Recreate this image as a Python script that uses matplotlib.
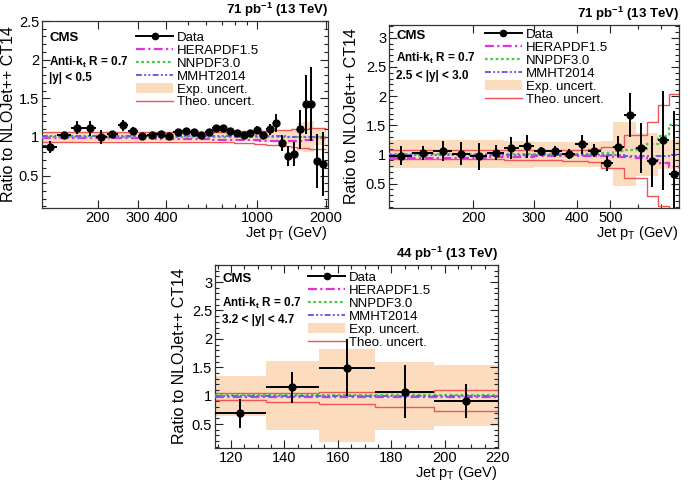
import matplotlib
matplotlib.use("Agg")
import matplotlib.pyplot as plt
from matplotlib.lines import Line2D
from matplotlib.patches import Patch
from matplotlib.ticker import FixedLocator, NullFormatter, MultipleLocator, FixedFormatter, FormatStrFormatter
import numpy as np

plt.rcParams['font.family'] = ['Liberation Sans', 'DejaVu Sans']
plt.rcParams['mathtext.fontset'] = 'custom'
plt.rcParams['mathtext.rm'] = 'Liberation Sans'
plt.rcParams['mathtext.it'] = 'Liberation Sans:italic'
plt.rcParams['mathtext.bf'] = 'Liberation Sans:bold'

# ---------------- data: panel 1, |y| < 0.5 ----------------
edges1 = [114, 133, 153, 174, 196, 220, 245, 272, 300, 330, 362, 395, 430, 468, 507, 548, 592, 638,
          686, 737, 790, 846, 905, 967, 1032, 1101, 1172, 1248, 1327, 1410, 1497, 1588, 1684, 1784,
          1890, 2000]
data1 = [0.87, 1.03, 1.12, 1.11, 1.00, 1.04, 1.15, 1.08, 1.01, 1.03, 1.04, 1.01, 1.06, 1.08, 1.06,
         1.02, 1.07, 1.11, 1.11, 1.08, 1.05, 1.03, 1.05, 1.09, 1.03, 1.10, 1.18, 0.92, 0.75, 0.78,
         1.10, 1.42, 1.43, 0.69, 0.65]
err1 = [0.08, 0.03, 0.08, 0.10, 0.09, 0.04, 0.07, 0.05, 0.02, 0.02, 0.02, 0.02, 0.02, 0.02, 0.02,
        0.02, 0.02, 0.02, 0.02, 0.02, 0.02, 0.03, 0.03, 0.05, 0.04, 0.07, 0.12, 0.10, 0.13, 0.15,
        0.25, 0.38, 0.48, 0.35, 0.42]
exp1 = [0.06, 0.06, 0.06, 0.05, 0.05, 0.05, 0.05, 0.05, 0.05, 0.05, 0.05, 0.05, 0.05, 0.05, 0.05,
        0.05, 0.05, 0.05, 0.05, 0.05, 0.05, 0.05, 0.05, 0.06, 0.06, 0.06, 0.07, 0.08, 0.09, 0.10,
        0.18, 0.19, 0.20, 0.10, 0.10]
theo_up1 = [1.06, 1.06, 1.06, 1.06, 1.06, 1.06, 1.06, 1.06, 1.06, 1.06, 1.06, 1.06, 1.06, 1.06, 1.07,
            1.07, 1.07, 1.07, 1.07, 1.07, 1.07, 1.08, 1.08, 1.08, 1.08, 1.09, 1.09, 1.09, 1.09, 1.10,
            1.10, 1.10, 1.11, 1.11, 1.11]
theo_lo1 = [0.94, 0.94, 0.94, 0.94, 0.94, 0.94, 0.94, 0.94, 0.94, 0.94, 0.94, 0.94, 0.94, 0.94, 0.94,
            0.94, 0.93, 0.93, 0.93, 0.93, 0.92, 0.92, 0.92, 0.91, 0.91, 0.90, 0.90, 0.89, 0.88, 0.87,
            0.86, 0.86, 0.85, 0.84, 0.84]
hera1 = [0.99, 0.99, 0.99, 0.98, 0.98, 0.98, 0.98, 0.98, 0.98, 0.98, 0.97, 0.97, 0.97, 0.97, 0.97,
         0.97, 0.97, 0.96, 0.96, 0.96, 0.96, 0.96, 0.96, 0.96, 0.95, 0.95, 0.95, 0.95, 0.95, 0.95,
         0.95, 0.96, 0.96, 0.97, 0.98]
nnpdf1 = [1.00, 1.00, 1.00, 1.00, 1.00, 1.00, 1.00, 1.00, 1.00, 1.00, 1.00, 1.00, 1.00, 1.00, 1.00,
          1.00, 1.00, 1.00, 1.00, 1.00, 1.00, 1.00, 1.00, 1.00, 1.00, 1.00, 1.00, 1.00, 1.00, 1.00,
          1.00, 1.00, 1.00, 1.00, 1.00]
mmht1 = [1.01, 1.01, 1.01, 1.01, 1.01, 1.01, 1.01, 1.01, 1.01, 1.01, 1.01, 1.01, 1.01, 1.01, 1.01,
         1.01, 1.01, 1.01, 1.01, 1.01, 1.01, 1.01, 1.01, 1.01, 1.01, 1.01, 1.01, 1.01, 1.00, 1.00,
         1.00, 1.00, 1.00, 1.00, 1.00]

# ---------------- data: panel 2, 2.5 < |y| < 3.0 ----------------
edges2 = [114, 133, 153, 174, 196, 220, 245, 272, 300, 330, 362, 395, 430, 468, 507, 548, 592, 638,
          686, 737, 790]
data2 = [0.98, 1.02, 1.06, 1.01, 0.97, 1.03, 1.11, 1.14, 1.06, 1.05, 1.01, 1.17, 1.06, 0.85, 1.13,
         1.68, 1.11, 0.88, 1.24, 0.66]
err2 = [0.16, 0.12, 0.17, 0.20, 0.23, 0.13, 0.19, 0.20, 0.07, 0.09, 0.09, 0.16, 0.11, 0.13, 0.18,
        0.38, 0.43, 0.44, 0.85, 1.08]
exp2 = [0.24, 0.24, 0.24, 0.24, 0.24, 0.24, 0.23, 0.23, 0.22, 0.22, 0.22, 0.21, 0.21, 0.23, 0.55,
        0.55, 0.37, 0.37, 0.25, 0.25]
theo_up2 = [1.08, 1.08, 1.08, 1.08, 1.08, 1.08, 1.08, 1.08, 1.08, 1.08, 1.08, 1.08, 1.09, 1.13, 1.13,
            1.34, 1.34, 1.56, 1.84, 2.03]
theo_lo2 = [0.92, 0.92, 0.92, 0.92, 0.92, 0.92, 0.91, 0.91, 0.91, 0.90, 0.89, 0.88, 0.87, 0.76, 0.76,
            0.60, 0.60, 0.28, 0.11, 0.00]
hera2 = [0.93, 0.93, 0.93, 0.94, 0.94, 0.95, 0.95, 0.96, 0.97, 0.97, 0.98, 0.98, 0.98, 0.97, 0.96,
         0.95, 0.93, 0.90, 0.85, 0.78]
nnpdf2 = [1.00, 1.00, 1.00, 1.00, 1.00, 1.00, 1.00, 1.00, 1.00, 1.00, 1.00, 1.01, 1.02, 1.03, 1.06,
          1.08, 1.10, 1.18, 1.32, 1.50]
mmht2 = [0.99, 0.99, 0.99, 0.99, 0.99, 0.99, 0.99, 0.99, 0.99, 0.99, 0.99, 0.99, 0.99, 0.99, 0.99,
         0.98, 0.98, 0.98, 0.98, 0.99]

# ---------------- data: panel 3, 3.2 < |y| < 4.7 ----------------
edges3 = [114, 133, 153, 174, 196, 220]
data3 = [0.69, 1.15, 1.49, 1.07, 0.91]
err3 = [0.25, 0.27, 0.50, 0.47, 0.30]
exp3 = [0.35, 0.61, 0.82, 0.60, 0.54]
theo_up3 = [1.04, 1.05, 1.07, 1.07, 1.10]
theo_lo3 = [0.92, 0.89, 0.86, 0.81, 0.73]
hera3 = [0.98, 0.98, 0.98, 0.98, 0.98]
nnpdf3 = [1.01, 1.01, 1.01, 1.01, 1.01]
mmht3 = [1.00, 1.00, 1.00, 1.00, 1.00]

titles = ["71 pb$^{\\mathbf{-1}}$ (13 TeV)", "71 pb$^{\\mathbf{-1}}$ (13 TeV)",
          "44 pb$^{\\mathbf{-1}}$ (13 TeV)"]
rapidity = ["|y| < 0.5", "2.5 < |y| < 3.0", "3.2 < |y| < 4.7"]
legend_labels = ["Data", "HERAPDF1.5", "NNPDF3.0", "MMHT2014", "Exp. uncert.", "Theo. uncert."]

BAND = '#fcdcbe'
RED = '#ee5555'
MAG = '#e030e0'
GRN = '#44cc44'
BLU = '#6060ee'

W, H = 688, 482
fig = plt.figure(figsize=(W / 100, H / 100), dpi=100)


def px_axes(l, t, r, b):
    return fig.add_axes([l / W, 1 - b / H, (r - l) / W, (b - t) / H])


def draw(ax, edges, data, err, exp, tu, tl, hera, nnpdf, mmht):
    e = np.array(edges, float)
    d = np.array(data)
    ex = np.array(exp)
    ax.stairs(1 + ex, e, baseline=1 - ex, fill=True, color=BAND, lw=0, zorder=1)
    ax.stairs(tu, e, color=RED, lw=1.0, zorder=2, baseline=None)
    ax.stairs(tl, e, color=RED, lw=1.0, zorder=2, baseline=None)
    ax.stairs(hera, e, color=MAG, lw=1.6, ls=(0, (4, 1.5, 1, 1.5)), zorder=3, baseline=None)
    ax.stairs(nnpdf, e, color=GRN, lw=1.6, ls=(0, (1.2, 1.2)), zorder=3, baseline=None)
    ax.stairs(mmht, e, color=BLU, lw=1.4, ls=(0, (3, 1.2, 1, 1.2, 1, 1.2)), zorder=3, baseline=None)
    xc = np.sqrt(e[:-1] * e[1:]) if ax.get_xscale() == 'log' else 0.5 * (e[:-1] + e[1:])
    xerr = [xc - e[:-1], e[1:] - xc]
    ax.errorbar(xc, d, yerr=err, xerr=xerr, fmt='o', color='black', ms=5, lw=1.4,
                capsize=0, zorder=5)


def style(ax, ymax, title, rap, leg_top, txt_y, ylab_x, xlab_y):
    ax.tick_params(direction='in', which='both', top=True, right=True, labelsize=10.5,
                   colors='#222222', labelcolor='black', pad=2)
    ax.tick_params(which='major', length=6, width=0.8)
    ax.tick_params(which='minor', length=3, width=0.8)
    ax.yaxis.set_major_locator(MultipleLocator(0.5))
    ax.yaxis.set_minor_locator(MultipleLocator(0.1))
    ax.yaxis.set_major_formatter(FormatStrFormatter('%g'))
    for s in ax.spines.values():
        s.set_linewidth(0.9)
        s.set_color('#333333')
    ax.set_ylim(0.08, ymax)
    ax.set_ylabel("Ratio to NLOJet++ CT14", fontsize=11.5)
    ax.yaxis.set_label_coords(ylab_x, 0.5)
    ax.set_xlabel("Jet p$_\\mathrm{T}$ (GeV)", fontsize=10.5, ha='right')
    ax.xaxis.set_label_coords(1.0, xlab_y)
    ax.text(1.0, 1.012, title, transform=ax.transAxes, ha='right', va='bottom',
            fontsize=9.5, fontweight='bold')
    ax.text(0.025, txt_y[0], "CMS", transform=ax.transAxes, ha='left', va='center',
            fontsize=9.5, fontweight='bold')
    ax.text(0.025, txt_y[1], "Anti-k$_\\mathbf{t}$ R = 0.7", transform=ax.transAxes,
            ha='left', va='center', fontsize=8.5, fontweight='bold')
    ax.text(0.025, txt_y[2], rap, transform=ax.transAxes, ha='left', va='center',
            fontsize=8.5, fontweight='bold')
    handles = [
        Line2D([], [], color='black', marker='o', ms=4.5, lw=1.4),
        Line2D([], [], color=MAG, lw=1.6, ls=(0, (4, 1.5, 1, 1.5))),
        Line2D([], [], color=GRN, lw=1.6, ls=(0, (1.2, 1.2))),
        Line2D([], [], color=BLU, lw=1.4, ls=(0, (3, 1.2, 1, 1.2, 1, 1.2))),
        Patch(facecolor=BAND, edgecolor='none'),
        Line2D([], [], color=RED, lw=1.0),
    ]
    ax.legend(handles, legend_labels, loc='upper left', bbox_to_anchor=(0.33, leg_top),
              frameon=False, fontsize=9.5, handlelength=2.8, handletextpad=0.3,
              labelspacing=0.02, borderpad=0, borderaxespad=0, handleheight=0.8)


# panel 1
ax1 = px_axes(42, 21, 328, 208)
ax1.set_xscale('log')
ax1.set_xlim(114, 2050)
draw(ax1, edges1, data1, err1, exp1, theo_up1, theo_lo1, hera1, nnpdf1, mmht1)
style(ax1, 2.5, titles[0], rapidity[0], 0.945, (0.91, 0.78, 0.695), -0.092, -0.085)
ax1.xaxis.set_major_locator(FixedLocator([200, 300, 400, 1000, 2000]))
ax1.xaxis.set_major_formatter(FixedFormatter(['200', '300', '400', '1000', '2000']))
ax1.xaxis.set_minor_locator(FixedLocator([500, 600, 700, 800, 900]))
ax1.xaxis.set_minor_formatter(NullFormatter())

# panel 2
ax2 = px_axes(389, 25, 679, 208)
ax2.set_xscale('log')
ax2.set_xlim(114, 790)
draw(ax2, edges2, data2, err2, exp2, theo_up2, theo_lo2, hera2, nnpdf2, mmht2)
style(ax2, 3.22, titles[1], rapidity[1], 0.98, (0.94, 0.815, 0.72), -0.103, -0.085)
ax2.xaxis.set_major_locator(FixedLocator([200, 300, 400, 500]))
ax2.xaxis.set_major_formatter(FixedFormatter(['200', '300', '400', '500']))
ax2.xaxis.set_minor_locator(FixedLocator([600, 700]))
ax2.xaxis.set_minor_formatter(NullFormatter())

# panel 3
ax3 = px_axes(215, 265, 498, 448)
ax3.set_xlim(114, 220)
draw(ax3, edges3, data3, err3, exp3, theo_up3, theo_lo3, hera3, nnpdf3, mmht3)
style(ax3, 3.3, titles[2], rapidity[2], 0.965, (0.925, 0.79, 0.70), -0.099, -0.085)
ax3.xaxis.set_major_locator(MultipleLocator(20))
ax3.xaxis.set_minor_locator(MultipleLocator(5))

fig.savefig("out.png", dpi=100)
